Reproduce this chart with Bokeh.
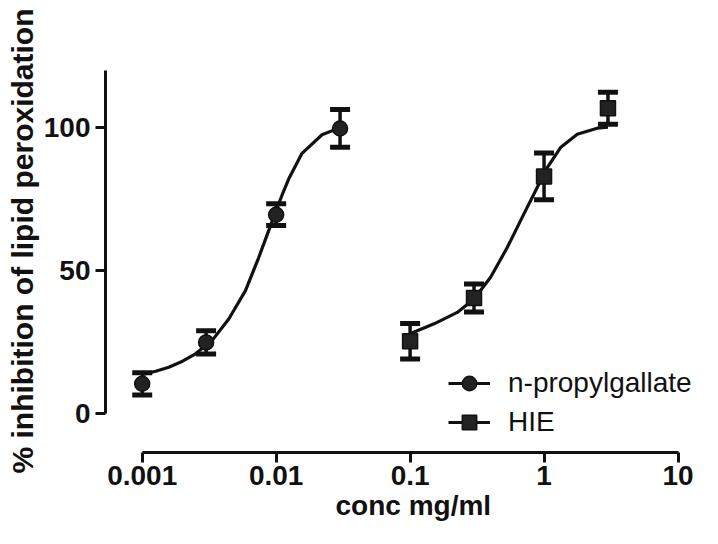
import math
from bokeh.plotting import figure
from bokeh.models import (ColumnDataSource, Whisker, TeeHead, FixedTicker,
                          CustomJSTickFormatter, Legend, LegendItem, Range1d, Title)
from bokeh.embed import file_html
from bokeh.resources import INLINE

# ---------------- data ----------------
npg_conc = [0.001, 0.003, 0.01, 0.03]
npg_mean = [10.3, 24.8, 69.5, 99.7]
npg_err = [3.9, 4.1, 3.8, 6.6]

hie_conc = [0.1, 0.3, 1.0, 3.0]
hie_mean = [25.2, 40.3, 82.9, 106.8]
hie_err = [6.2, 4.9, 8.2, 5.6]

# fitted sigmoid curves
npg_fit_x = [0.00100, 0.00126, 0.00158, 0.00200, 0.00250, 0.00333, 0.00443,
             0.00590, 0.00741, 0.00881, 0.0100, 0.0111, 0.0124, 0.0156,
             0.0220, 0.0300]
npg_fit_y = [13.5, 14.7, 16.1, 18.2, 20.8, 25.5, 33.0, 42.9, 54.5, 64.0,
             71.0, 76.5, 82.0, 91.0, 97.5, 100.0]

hie_fit_x = [0.100, 0.151, 0.225, 0.300, 0.399, 0.531, 0.706, 0.889, 1.057,
             1.327, 1.770, 2.495, 3.000]
hie_fit_y = [27.8, 31.3, 35.3, 40.0, 47.6, 58.0, 69.7, 79.0, 86.0, 93.0,
             97.7, 99.8, 100.2]

x_ticks = [0.001, 0.01, 0.1, 1, 10]
x_tick_labels = ["0.001", "0.01", "0.1", "1", "10"]
y_ticks = [0, 50, 100]

series_names = ["n-propylgallate", "HIE"]
x_title = "conc mg/ml"
y_title = "% inhibition of lipid peroxidation"

# ---------------- layout ----------------
W, H = 702, 528
B_LEFT, B_RIGHT, B_TOP, B_BOTTOM = 105, 2, 70, 76
frame_w = W - B_LEFT - B_RIGHT
frame_h = H - B_TOP - B_BOTTOM
px_per_decade = 133.95
gap_left = 36.7     # y axis sits left of first x tick
log_start = -3 - gap_left / px_per_decade
log_end = log_start + frame_w / px_per_decade
gap_bottom = 39.3   # x axis sits below y = 0
px_per_unit = (frame_h - gap_bottom) / 120.0
y_start = -gap_bottom / px_per_unit

p = figure(width=W, height=H, x_axis_type="log",
           x_range=Range1d(10 ** log_start, 10 ** log_end),
           y_range=Range1d(y_start, 120),
           output_backend="svg", toolbar_location=None,
           min_border_left=B_LEFT, min_border_right=B_RIGHT,
           min_border_top=B_TOP, min_border_bottom=B_BOTTOM)
p.outline_line_color = None
p.grid.visible = False
p.background_fill_color = "white"
p.border_fill_color = "white"

INK = "#111111"
FONT = "Liberation Sans"

# axes
xa = p.xaxis[0]
xa.ticker = FixedTicker(ticks=x_ticks, minor_ticks=[])
xa.formatter = CustomJSTickFormatter(args=dict(vals=x_ticks, labs=x_tick_labels), code="""
let best = 0;
for (let i = 0; i < vals.length; i++) {
  if (Math.abs(Math.log10(vals[i]) - Math.log10(tick)) <
      Math.abs(Math.log10(vals[best]) - Math.log10(tick))) best = i;
}
return labs[best];
""")
xa.bounds = (x_ticks[0], x_ticks[-1])
xa.major_label_standoff = 3

ya = p.yaxis[0]
ya.ticker = FixedTicker(ticks=y_ticks, minor_ticks=[])
ya.bounds = (0, 120)
ya.major_label_standoff = 5

for ax in (xa, ya):
    ax.axis_line_width = 3
    ax.axis_line_color = INK
    ax.major_tick_line_width = 3
    ax.major_tick_line_color = INK
    ax.major_tick_out = 10
    ax.major_tick_in = 0
    ax.minor_tick_line_color = None
    ax.major_label_text_font = FONT
    ax.major_label_text_font_style = "bold"
    ax.major_label_text_font_size = "28px"
    ax.major_label_text_color = INK

# axis titles as side-panel titles (placed with offsets)
p.add_layout(Title(text=x_title, align="left", offset=230, vertical_align="bottom",
                   standoff=0, text_font=FONT, text_font_style="bold",
                   text_font_size="28px", text_color=INK), "below")
p.add_layout(Title(text=y_title, align="left", offset=-21, vertical_align="top",
                   standoff=0, text_font=FONT, text_font_style="bold",
                   text_font_size="30px", text_color=INK), "left")

# curves
l1 = p.line(npg_fit_x, npg_fit_y, line_width=3.2, line_color=INK)
l2 = p.line(hie_fit_x, hie_fit_y, line_width=3.2, line_color=INK)

# error bars
for xs, ys, es in ((npg_conc, npg_mean, npg_err), (hie_conc, hie_mean, hie_err)):
    src = ColumnDataSource(dict(x=xs,
                                upper=[m + e for m, e in zip(ys, es)],
                                lower=[m - e for m, e in zip(ys, es)]))
    w = Whisker(base="x", upper="upper", lower="lower", source=src,
                line_width=3.5, line_color=INK,
                upper_head=TeeHead(size=20, line_width=5, line_color=INK),
                lower_head=TeeHead(size=20, line_width=5, line_color=INK))
    p.add_layout(w)

# markers
m1 = p.scatter(npg_conc, npg_mean, marker="circle", size=15,
               fill_color="#222222", line_color=INK, line_width=1.5)
m2 = p.scatter(hie_conc, hie_mean, marker="square", size=15,
               fill_color="#222222", line_color=INK, line_width=1.5)

# legend
legend = Legend(items=[LegendItem(label=series_names[0], renderers=[l1, m1]),
                       LegendItem(label=series_names[1], renderers=[l2, m2])],
                location=(343, 11.7), orientation="vertical",
                glyph_width=42, glyph_height=36, label_height=36,
                label_standoff=18, spacing=3, padding=0, margin=0,
                border_line_color=None, background_fill_alpha=0,
                label_text_font=FONT, label_text_font_size="28px",
                label_text_color=INK)
p.add_layout(legend)

open("out.html", "w").write(file_html(p, INLINE))
